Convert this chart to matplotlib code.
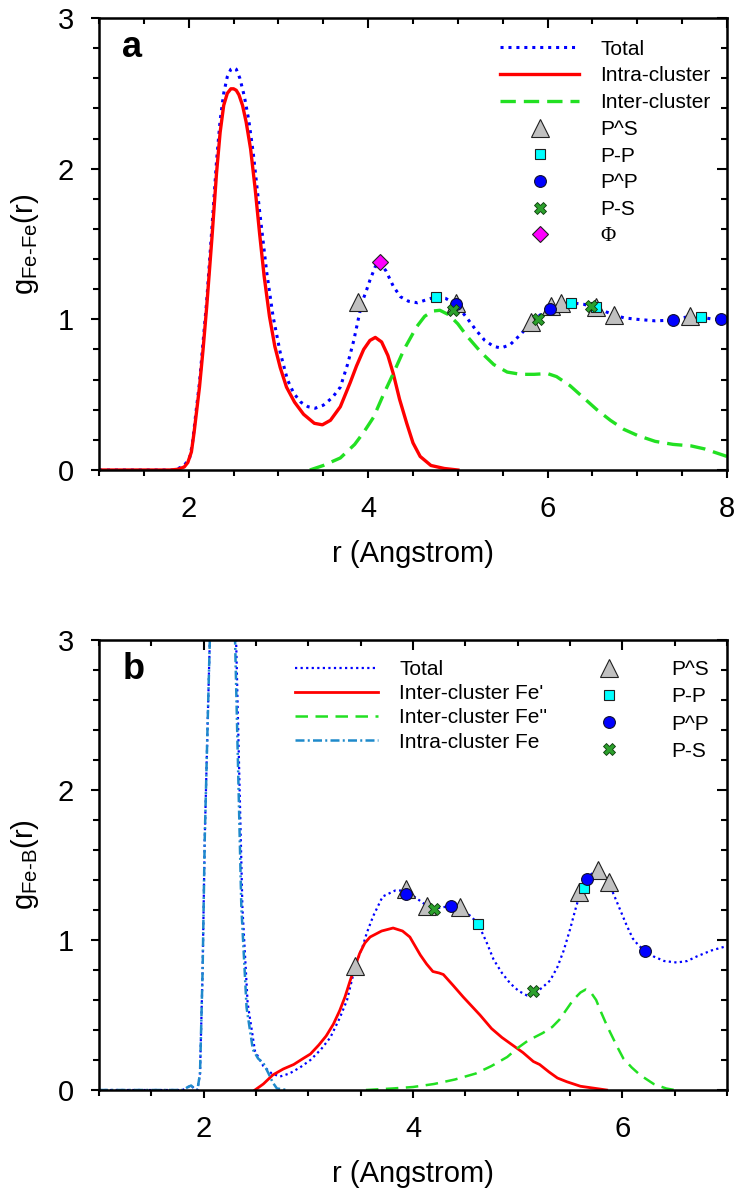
import numpy as np
import matplotlib
matplotlib.use("Agg")
import matplotlib.pyplot as plt
from matplotlib.ticker import MultipleLocator

plt.rcParams['font.family'] = ['Liberation Sans', 'DejaVu Sans']
plt.rcParams['mathtext.fontset'] = 'custom'
plt.rcParams['mathtext.rm'] = 'Liberation Sans'
plt.rcParams['mathtext.it'] = 'Liberation Sans:italic'
plt.rcParams['lines.solid_joinstyle'] = 'round'
plt.rcParams['lines.dash_joinstyle'] = 'round'

# ---------------- panel a : g Fe-Fe ----------------
a_tot_r = [1.0, 1.85, 1.95, 2.01, 2.04, 2.08, 2.12, 2.16, 2.2, 2.26, 2.31, 2.35, 2.39, 2.43, 2.47,
           2.5, 2.53, 2.57, 2.62, 2.67, 2.72, 2.79, 2.87, 2.94, 3.02, 3.1, 3.17, 3.25, 3.33, 3.41,
           3.5, 3.6, 3.69, 3.77, 3.84, 3.89, 3.93, 3.98, 4.02, 4.08, 4.13, 4.2, 4.28, 4.36, 4.45,
           4.55, 4.65, 4.76, 4.86, 4.98, 5.1, 5.2, 5.3, 5.4, 5.48, 5.58, 5.7, 5.82, 5.92, 6.03,
           6.15, 6.26, 6.4, 6.54, 6.65, 6.74, 6.85, 7.0, 7.2, 7.4, 7.5, 7.6, 7.71, 7.85, 8.0]
a_tot_g = [0, 0, 0.03, 0.08, 0.17, 0.38, 0.58, 0.85, 1.12, 1.62, 2.05, 2.32, 2.50, 2.61, 2.66,
           2.67, 2.66, 2.60, 2.48, 2.32, 2.10, 1.72, 1.31, 1.02, 0.78, 0.60, 0.51, 0.45, 0.42, 0.41,
           0.43, 0.48, 0.55, 0.70, 0.86, 1.0, 1.11, 1.19, 1.26, 1.35, 1.38, 1.32, 1.22, 1.15, 1.12,
           1.11, 1.13, 1.15, 1.14, 1.10, 1.01, 0.93, 0.86, 0.82, 0.81, 0.83, 0.90, 0.98, 1.03, 1.07,
           1.10, 1.11, 1.10, 1.08, 1.05, 1.03, 1.01, 1.00, 0.99, 0.995, 1.01, 1.02, 1.015, 1.00, 1.00]

a_intra_r = [1.0, 1.8, 1.88, 1.95, 1.99, 2.03, 2.06, 2.09, 2.12, 2.16, 2.2, 2.26, 2.31, 2.35, 2.39,
             2.43, 2.47, 2.5, 2.53, 2.56, 2.6, 2.64, 2.69, 2.74, 2.79, 2.84, 2.9, 2.96, 3.02, 3.09,
             3.18, 3.28, 3.4, 3.49, 3.58, 3.69, 3.8, 3.87, 3.95, 4.02, 4.08, 4.15, 4.22, 4.28, 4.35,
             4.43, 4.5, 4.58, 4.7, 4.85, 5.0]
a_intra_g = [0, 0, 0.005, 0.02, 0.05, 0.12, 0.25, 0.40, 0.55, 0.80, 1.08, 1.55, 1.97, 2.24, 2.42,
             2.50, 2.53, 2.53, 2.52, 2.49, 2.42, 2.31, 2.13, 1.87, 1.57, 1.29, 1.02, 0.82, 0.68, 0.55,
             0.45, 0.37, 0.31, 0.30, 0.33, 0.42, 0.58, 0.69, 0.80, 0.86, 0.88, 0.85, 0.76, 0.64, 0.47,
             0.31, 0.18, 0.09, 0.03, 0.01, 0.0]

a_inter_r = [3.35, 3.5, 3.69, 3.85, 3.95, 4.06, 4.17, 4.28, 4.4, 4.54, 4.63, 4.72, 4.8, 4.9, 5.0,
             5.1, 5.26, 5.4, 5.55, 5.7, 5.85, 6.0, 6.1, 6.25, 6.4, 6.55, 6.7, 6.85, 7.0, 7.2, 7.4,
             7.6, 7.75, 7.9, 8.0]
a_inter_g = [0.0, 0.03, 0.08, 0.17, 0.25, 0.35, 0.50, 0.64, 0.80, 0.95, 1.02, 1.055, 1.06, 1.03, 0.97,
             0.89, 0.78, 0.70, 0.65, 0.635, 0.635, 0.64, 0.62, 0.56, 0.48, 0.40, 0.33, 0.27, 0.23, 0.19, 0.17,
             0.16, 0.14, 0.11, 0.09]

a_ps_r = [3.89, 4.98, 5.82, 6.04, 6.15, 6.54, 6.74, 7.59]
a_ps_g = [1.115, 1.11, 0.98, 1.09, 1.11, 1.08, 1.03, 1.02]
a_pp_r = [4.76, 6.26, 6.54, 7.71]
a_pp_g = [1.15, 1.11, 1.08, 1.015]
a_pcp_r = [4.98, 6.03, 7.40, 7.93]
a_pcp_g = [1.10, 1.07, 0.995, 1.00]
a_pms_r = [4.95, 5.89, 6.48]
a_pms_g = [1.06, 1.00, 1.09]
a_phi_r = [4.13]
a_phi_g = [1.38]

# ---------------- panel b : g Fe-B ----------------
b_tot_r = [1.0, 1.8, 1.85, 1.88, 1.91, 1.94, 1.965, 1.99, 2.01, 2.04, 2.07, 2.1, 2.18, 2.25, 2.31,
           2.34, 2.37, 2.42, 2.49, 2.57, 2.65, 2.73, 2.82, 2.92, 3.02, 3.12, 3.21, 3.3, 3.37, 3.45,
           3.52, 3.56, 3.62, 3.71, 3.83, 3.93, 4.03, 4.13, 4.2, 4.3, 4.36, 4.45, 4.55, 4.62, 4.7,
           4.77, 4.85, 4.93, 5.01, 5.09, 5.15, 5.23, 5.31, 5.38, 5.44, 5.5, 5.55, 5.6, 5.66, 5.72,
           5.77, 5.83, 5.87, 5.92, 5.98, 6.04, 6.1, 6.16, 6.22, 6.3, 6.4, 6.52, 6.62, 6.71, 6.85, 7.0]
b_tot_g = [0, 0, 0.02, 0.03, 0.01, 0.0, 0.11, 0.8, 1.67, 2.5, 3.3, 4.0, 5.2, 4.3, 3.0,
           2.11, 1.22, 0.58, 0.26, 0.16, 0.11, 0.09, 0.11, 0.15, 0.20, 0.27, 0.35, 0.48, 0.60, 0.83,
           0.96, 1.05, 1.16, 1.29, 1.33, 1.33, 1.28, 1.23, 1.21, 1.22, 1.23, 1.21, 1.16, 1.11, 0.99,
           0.87, 0.78, 0.71, 0.66, 0.63, 0.64, 0.68, 0.73, 0.82, 0.93, 1.07, 1.20, 1.32, 1.41, 1.45,
           1.45, 1.42, 1.38, 1.30, 1.20, 1.10, 1.01, 0.96, 0.93, 0.89, 0.86, 0.85, 0.86, 0.89, 0.93, 0.96]

b_fe1_r = [2.49, 2.57, 2.66, 2.76, 2.86, 2.95, 3.02, 3.1, 3.17, 3.24, 3.30, 3.35, 3.40, 3.45, 3.49,
           3.54, 3.59, 3.7, 3.81, 3.9, 3.97, 4.07, 4.13, 4.19, 4.25, 4.29, 4.38, 4.48, 4.56, 4.64,
           4.75, 4.85, 4.95, 5.05, 5.15, 5.21, 5.3, 5.38, 5.47, 5.6, 5.75, 5.85]
b_fe1_g = [0.0, 0.04, 0.10, 0.14, 0.17, 0.21, 0.24, 0.30, 0.36, 0.44, 0.53, 0.62, 0.73, 0.83, 0.91,
           0.98, 1.02, 1.06, 1.08, 1.06, 1.02, 0.90, 0.84, 0.79, 0.78, 0.77, 0.70, 0.62, 0.56, 0.50,
           0.41, 0.35, 0.30, 0.25, 0.19, 0.17, 0.12, 0.08, 0.055, 0.025, 0.01, 0.0]

b_fe2_r = [3.55, 3.8, 4.0, 4.2, 4.4, 4.6, 4.75, 4.9, 5.0, 5.1, 5.24, 5.33, 5.40, 5.47, 5.53,
           5.6, 5.65, 5.7, 5.75, 5.79, 5.84, 5.88, 5.95, 6.01, 6.09, 6.17, 6.3, 6.42, 6.5]
b_fe2_g = [0.0, 0.01, 0.02, 0.04, 0.07, 0.11, 0.16, 0.22, 0.28, 0.33, 0.38, 0.42, 0.47, 0.54, 0.60,
           0.65, 0.67, 0.65, 0.60, 0.53, 0.45, 0.39, 0.29, 0.21, 0.15, 0.10, 0.04, 0.01, 0.0]

b_fe_r = [1.0, 1.8, 1.85, 1.88, 1.91, 1.94, 1.965, 1.99, 2.01, 2.04, 2.07, 2.1, 2.18, 2.25, 2.30,
          2.33, 2.36, 2.41, 2.47, 2.52, 2.57, 2.62, 2.66, 2.70, 2.8]
b_fe_g = [0, 0, 0.02, 0.03, 0.01, 0.0, 0.11, 0.8, 1.67, 2.5, 3.3, 4.0, 5.2, 4.2, 3.0,
          2.11, 1.22, 0.55, 0.27, 0.21, 0.18, 0.11, 0.05, 0.01, 0.0]

b_ps_r = [3.45, 3.93, 4.13, 4.45, 5.59, 5.77, 5.87]
b_ps_g = [0.83, 1.34, 1.23, 1.22, 1.32, 1.47, 1.39]
b_pp_r = [4.62, 5.63]
b_pp_g = [1.11, 1.35]
b_pcp_r = [3.93, 4.36, 5.66, 6.22]
b_pcp_g = [1.31, 1.23, 1.41, 0.93]
b_pms_r = [4.20, 5.15]
b_pms_g = [1.21, 0.66]

FS = 21
LFS = 15

tri = dict(marker='^', ms=12.5, mfc='#c0c0c0', mec='#202020', mew=0.8, ls='none')
sq = dict(marker='s', ms=7.5, mfc='#00ffff', mec='#202020', mew=0.8, ls='none')
circ = dict(marker='o', ms=8.5, mfc='#0000ff', mec='#101030', mew=0.8, ls='none')
xx = dict(marker='X', ms=8, mfc='#2ca02c', mec='#0a3a0a', mew=0.6, ls='none')
dia = dict(marker='D', ms=8, mfc='#ff00ff', mec='#202020', mew=0.8, ls='none')


def style_axes(ax, xmax, xmajor, ylab, letter):
    ax.set_xlim(1, xmax)
    ax.set_ylim(0, 3)
    ax.xaxis.set_major_locator(MultipleLocator(xmajor))
    ax.xaxis.set_minor_locator(MultipleLocator(0.5))
    ax.yaxis.set_major_locator(MultipleLocator(1))
    ax.yaxis.set_minor_locator(MultipleLocator(0.2))
    ax.tick_params(which='both', direction='out', width=1.5, labelsize=FS,
                   top=False, right=False)
    ax.tick_params(which='major', length=6, pad=12)
    ax.tick_params(which='minor', length=4)
    for s in ax.spines.values():
        s.set_linewidth(1.8)
    top = ax.secondary_xaxis('top')
    top.xaxis.set_major_locator(MultipleLocator(xmajor))
    top.xaxis.set_minor_locator(MultipleLocator(0.5))
    top.tick_params(which='both', direction='in', width=1.5, labeltop=False)
    top.tick_params(which='major', length=7)
    top.tick_params(which='minor', length=4)
    right = ax.secondary_yaxis('right')
    right.yaxis.set_major_locator(MultipleLocator(1))
    right.yaxis.set_minor_locator(MultipleLocator(0.2))
    right.tick_params(which='both', direction='in', width=1.5, labelright=False)
    right.tick_params(which='major', length=7)
    right.tick_params(which='minor', length=4)
    ax.set_xlabel('r (Angstrom)', fontsize=FS, labelpad=12)
    ax.set_ylabel(ylab, fontsize=FS, labelpad=12)
    ax.text(0.037, 0.935, letter, transform=ax.transAxes, fontsize=26,
            fontweight='bold', va='center', ha='left')


fig = plt.figure(figsize=(7.35, 11.99), dpi=100)
ax1 = fig.add_axes([0.1347, 0.608, 0.8544, 0.377])
ax2 = fig.add_axes([0.1347, 0.0909, 0.8544, 0.3753])

# panel a
l1, = ax1.plot(a_tot_r, a_tot_g, color='#0000ff', lw=2.2, dashes=(1, 1.6), label='Total')
l2, = ax1.plot(a_intra_r, a_intra_g, color='#ff0000', lw=2.4, label='Intra-cluster')
l3, = ax1.plot(a_inter_r, a_inter_g, color='#22e022', lw=2.4, dashes=(4.6, 2.4), label='Inter-cluster')
m1, = ax1.plot(a_ps_r, a_ps_g, label='P^S', **tri)
m2, = ax1.plot(a_pp_r, a_pp_g, label='P-P', **sq)
m3, = ax1.plot(a_pcp_r, a_pcp_g, label='P^P', **circ)
m4, = ax1.plot(a_pms_r, a_pms_g, label='P-S', **xx)
m5, = ax1.plot(a_phi_r, a_phi_g, label='Φ', **dia)
leg = ax1.legend(handles=[l1, l2, l3, m1, m2, m3, m4, m5], loc='upper left',
                 bbox_to_anchor=(0.639, 0.952), frameon=False, fontsize=LFS,
                 handlelength=3.8, handletextpad=1.0, labelspacing=0.37,
                 borderpad=0, borderaxespad=0, numpoints=1)
leg.get_texts()[-1].set_family(['Liberation Serif', 'DejaVu Serif'])
style_axes(ax1, 8, 2, 'g$_{\\mathregular{Fe\u2010Fe}}$(r)', 'a')

# panel b
k1, = ax2.plot(b_tot_r, b_tot_g, color='#0000ff', lw=1.6, dashes=(1, 1.5), label='Total')
k2, = ax2.plot(b_fe1_r, b_fe1_g, color='#ff0000', lw=2.0, label="Inter-cluster Fe'")
k3, = ax2.plot(b_fe2_r, b_fe2_g, color='#22e022', lw=1.8, dashes=(5, 3), label="Inter-cluster Fe''")
k4, = ax2.plot(b_fe_r, b_fe_g, color='#1f8acb', lw=1.8, dashes=(3.6, 1.3, 0.8, 1.3),
               label='Intra-cluster Fe')
n1, = ax2.plot(b_ps_r, b_ps_g, label='P^S', **tri)
n2, = ax2.plot(b_pp_r, b_pp_g, label='P-P', **sq)
n3, = ax2.plot(b_pcp_r, b_pcp_g, label='P^P', **circ)
n4, = ax2.plot(b_pms_r, b_pms_g, label='P-S', **xx)
legA = ax2.legend(handles=[k1, k2, k3, k4], loc='upper left', bbox_to_anchor=(0.312, 0.955),
                  frameon=False, fontsize=LFS, handlelength=4.0, handletextpad=1.0,
                  labelspacing=0.245, borderpad=0, borderaxespad=0)
ax2.add_artist(legA)
ax2.legend(handles=[n1, n2, n3, n4], loc='upper left', bbox_to_anchor=(0.779, 0.955),
           frameon=False, fontsize=LFS, handlelength=2.0, handletextpad=2.0,
           labelspacing=0.39, borderpad=0, borderaxespad=0, numpoints=1)
style_axes(ax2, 7, 2, 'g$_{\\mathregular{Fe\u2010B}}$(r)', 'b')

fig.savefig('out.png', dpi=100)
